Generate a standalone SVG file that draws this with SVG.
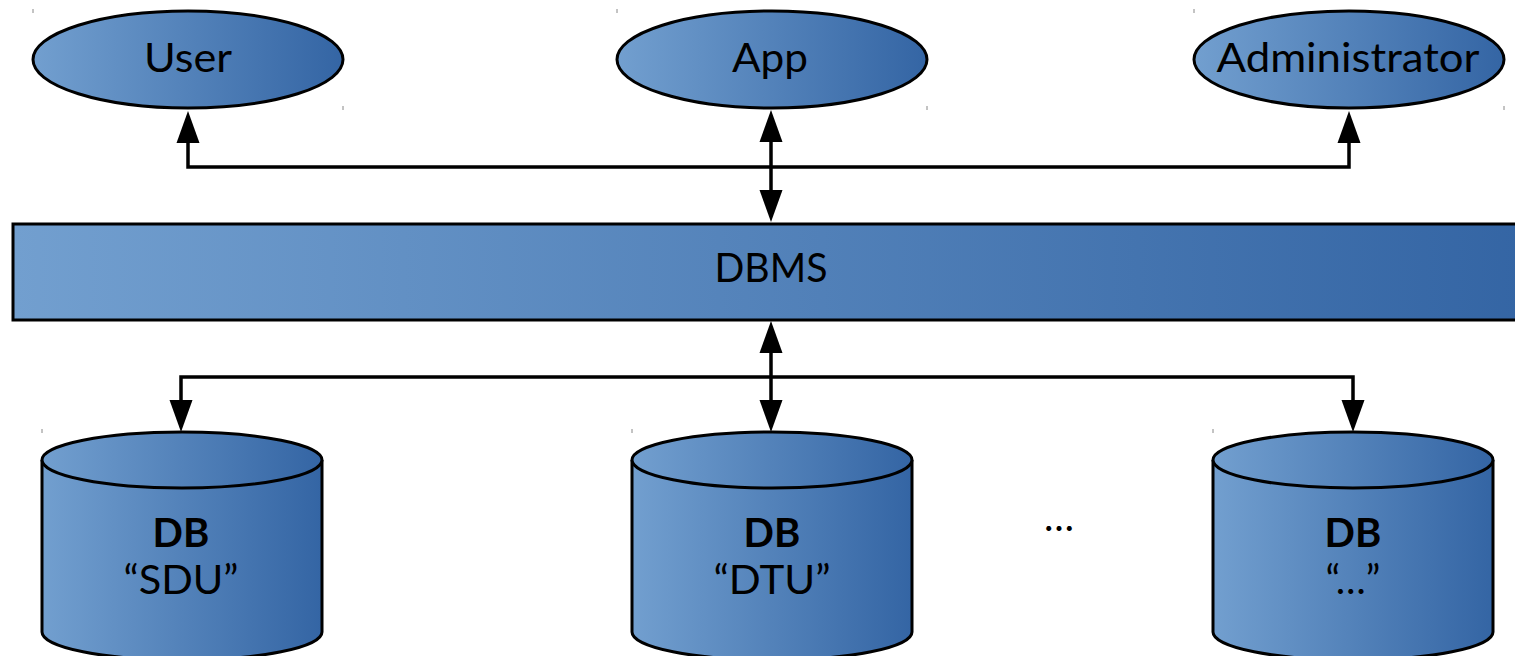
<svg xmlns="http://www.w3.org/2000/svg" width="1515" height="656" viewBox="0 0 1515 656">
<style>
.shape{fill:url(#blue);stroke:#000;stroke-width:3}
.lbl{font-family:Lato,"Liberation Sans",sans-serif;font-size:40px;fill:#000;text-anchor:middle}
.b{font-weight:bold}
.conn{fill:none;stroke:#000;stroke-width:3.5;marker-start:url(#ah);marker-end:url(#ah)}
.tick{stroke:#888;stroke-width:1}
</style>
<defs>
<linearGradient id="blue" x1="0" y1="0" x2="1" y2="0">
<stop offset="0" stop-color="#729fcf"/>
<stop offset="1" stop-color="#3465a4"/>
</linearGradient>
<marker id="ah" markerUnits="userSpaceOnUse" markerWidth="33" markerHeight="23" refX="0" refY="11.5" orient="auto-start-reverse" overflow="visible">
<path d="M0,0 L32,11.5 L0,23 Z" fill="#000"/>
</marker>
</defs>
<g id="connectors">
<path class="conn" d="M188,143 L188,167 L1349,167 L1349,143"/>
<path class="conn" d="M771,142 L771,190"/>
<path class="conn" d="M771,353 L771,400"/>
<path class="conn" d="M181,400 L181,377 L1353,377 L1353,400"/>
</g>
<g id="user">
<ellipse class="shape" cx="188" cy="59.5" rx="155" ry="48.5"/>
<text class="lbl" x="188" y="72" textLength="88" lengthAdjust="spacingAndGlyphs">User</text>
<line class="tick" x1="33" y1="9" x2="33" y2="13"/><line class="tick" x1="343" y1="106" x2="343" y2="110"/>
</g>
<g id="app">
<ellipse class="shape" cx="772" cy="59.5" rx="155" ry="48.5"/>
<text class="lbl" x="770" y="72" textLength="76" lengthAdjust="spacingAndGlyphs">App</text>
<line class="tick" x1="617" y1="9" x2="617" y2="13"/><line class="tick" x1="927" y1="106" x2="927" y2="110"/>
</g>
<g id="administrator">
<ellipse class="shape" cx="1349" cy="59.5" rx="155" ry="48.5"/>
<text class="lbl" x="1348" y="72" textLength="263" lengthAdjust="spacingAndGlyphs">Administrator</text>
<line class="tick" x1="1194" y1="9" x2="1194" y2="13"/><line class="tick" x1="1504" y1="106" x2="1504" y2="110"/>
</g>
<g id="dbms">
<rect class="shape" x="13" y="224" width="1515" height="96"/>
<text class="lbl" x="771" y="282" textLength="113" lengthAdjust="spacingAndGlyphs">DBMS</text>
</g>
<g id="db-sdu">
<path class="shape" d="M42,460 L42,632 A140,28 0 0 0 322,632 L322,460"/>
<ellipse class="shape" cx="182" cy="460" rx="140" ry="28"/>
<text class="lbl b" x="181" y="547">DB</text>
<text class="lbl" x="181" y="594" textLength="115" lengthAdjust="spacingAndGlyphs">“SDU”</text>
<line class="tick" x1="42" y1="429" x2="42" y2="433"/>
</g>
<g id="db-dtu">
<path class="shape" d="M632,460 L632,632 A140,28 0 0 0 912,632 L912,460"/>
<ellipse class="shape" cx="772" cy="460" rx="140" ry="28"/>
<text class="lbl b" x="772" y="547">DB</text>
<text class="lbl" x="772" y="594" textLength="117" lengthAdjust="spacingAndGlyphs">“DTU”</text>
<line class="tick" x1="632" y1="429" x2="632" y2="433"/>
</g>
<g id="ellipsis">
<text class="lbl" x="1059" y="531">…</text>
</g>
<g id="db-more">
<path class="shape" d="M1213,460 L1213,632 A140,28 0 0 0 1493,632 L1493,460"/>
<ellipse class="shape" cx="1353" cy="460" rx="140" ry="28"/>
<text class="lbl b" x="1353" y="547">DB</text>
<text class="lbl" x="1353" y="594">“…”</text>
<line class="tick" x1="1213" y1="429" x2="1213" y2="433"/>
</g>
</svg>
